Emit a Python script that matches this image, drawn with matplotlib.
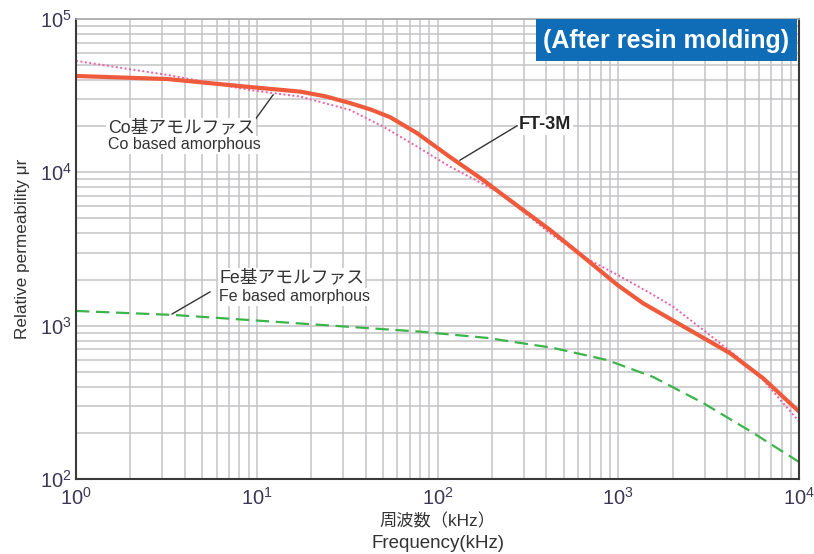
"""
Relative permeability vs frequency (after resin molding)
FT-3M vs Co / Fe based amorphous
"""

import matplotlib
matplotlib.use('Agg')
import matplotlib.pyplot as plt
from matplotlib.patches import Rectangle

plt.rcParams['font.family'] = ['Liberation Sans', 'Noto Sans CJK JP', 'DejaVu Sans']

# FT-3M (red, solid)
ft3m_freq = [1, 3.19, 9.18, 17.4, 24, 32.8, 43, 54.6, 77.1, 117, 179, 222, 297,
             419, 638, 984, 1370, 2010, 4150, 6320, 10000]
ft3m_mu = [42500, 40600, 36000, 33600, 31300, 28300, 25600, 22900, 18000, 12600,
           8900, 7340, 5690, 4210, 2820, 1850, 1400, 1080, 661, 454, 275]

# Co based amorphous (pink, dotted)
co_freq = [1, 3.19, 9.18, 17.4, 32.8, 49.9, 77.1, 117, 222, 275, 419, 638,
           984, 1500, 2010, 2950, 4540, 6320, 10000]
co_mu = [53300, 43200, 34400, 31200, 25500, 19900, 14700, 10900, 7340, 5970,
         4010, 2820, 2150, 1630, 1330, 937, 628, 443, 237]

# Fe based amorphous (green, dashed)
fe_freq = [1, 3.44, 10, 80, 188, 436, 866, 1557, 2946, 5560, 10000]
fe_mu = [1247, 1175, 1080, 914, 832, 716, 597, 463, 313, 200, 129]

tick_color = '#3d3555'
text_color = '#333333'

fig = plt.figure(figsize=(8.14, 5.54), dpi=100)
ax = fig.add_axes([0.0934, 0.1354, 0.8883, 0.8303])

ax.set_xscale('log')
ax.set_yscale('log')
ax.set_xlim(1, 1e4)
ax.set_ylim(1e2, 1e5)

ax.grid(True, which='both', color='#c4c4c8', linewidth=1.1)
ax.set_axisbelow(True)

ax.plot(fe_freq, fe_mu, color='#3cb44b', linewidth=1.6, dashes=(6, 3))
ax.plot(co_freq, co_mu, color='#ec5fa6', linewidth=1.4, linestyle=(0, (1, 1.3)))
ax.plot(ft3m_freq, ft3m_mu, color='#f05a3c', linewidth=3.0, solid_capstyle='butt')

# axes frame
for side in ['left', 'bottom', 'right']:
    ax.spines[side].set_color('#3a3a3a')
    ax.spines[side].set_linewidth(1.5)
ax.spines['top'].set_color('#a8a8a8')
ax.spines['top'].set_linewidth(1.2)

ax.tick_params(which='both', length=0)
ax.tick_params(axis='both', labelsize=14.5, labelcolor=tick_color)
ax.tick_params(axis='x', pad=6)
ax.tick_params(axis='y', pad=3)

ax.set_ylabel('Relative permeability μr', fontsize=12.3, color=text_color)
ax.yaxis.set_label_coords(-0.064, 0.5)

# two-line x label (Japanese over English)
fig.text(0.5375, 1 - 521 / 554, '周波数（kHz）', fontsize=12.4, color=text_color,
         ha='center', va='center')
fig.text(0.5375, 1 - 543 / 554, 'Frequency(kHz)', fontsize=13.5, color=text_color,
         ha='center', va='center')

bg = dict(facecolor='white', edgecolor='none', pad=1.0)

# Co based amorphous label
ax.text(1.50, 19500, 'Co基アモルファス', fontsize=12.8, color=text_color,
        va='center', ha='left', bbox=bg)
ax.text(1.50, 15100, 'Co based amorphous', fontsize=11.5, color=text_color,
        va='center', ha='left', bbox=bg)
ax.plot([9.5, 12.3], [21000, 32000], color=text_color, linewidth=1.0)

# FT-3M label
ax.text(282, 20400, 'FT-3M', fontsize=13, fontweight='bold', color='#222222',
        va='center', ha='left', bbox=bg)
ax.plot([275, 133], [20100, 12000], color=text_color, linewidth=1.0)

# Fe based amorphous label
ax.text(6.18, 2050, 'Fe基アモルファス', fontsize=12.8, color=text_color,
        va='center', ha='left', bbox=bg)
ax.text(6.18, 1540, 'Fe based amorphous', fontsize=11.5, color=text_color,
        va='center', ha='left', bbox=bg)
ax.plot([5.51, 3.40], [1660, 1192], color=text_color, linewidth=1.0)

# title box
ax.add_patch(Rectangle((0.636, 0.909), 0.361, 0.091, transform=ax.transAxes,
                       facecolor='#0f6cb6', edgecolor='none', zorder=5))
ax.text(0.8165, 0.953, '(After resin molding)', transform=ax.transAxes,
        fontsize=18, fontweight='bold', color='white', ha='center', va='center',
        zorder=6)

fig.savefig('out.png', dpi=100)
